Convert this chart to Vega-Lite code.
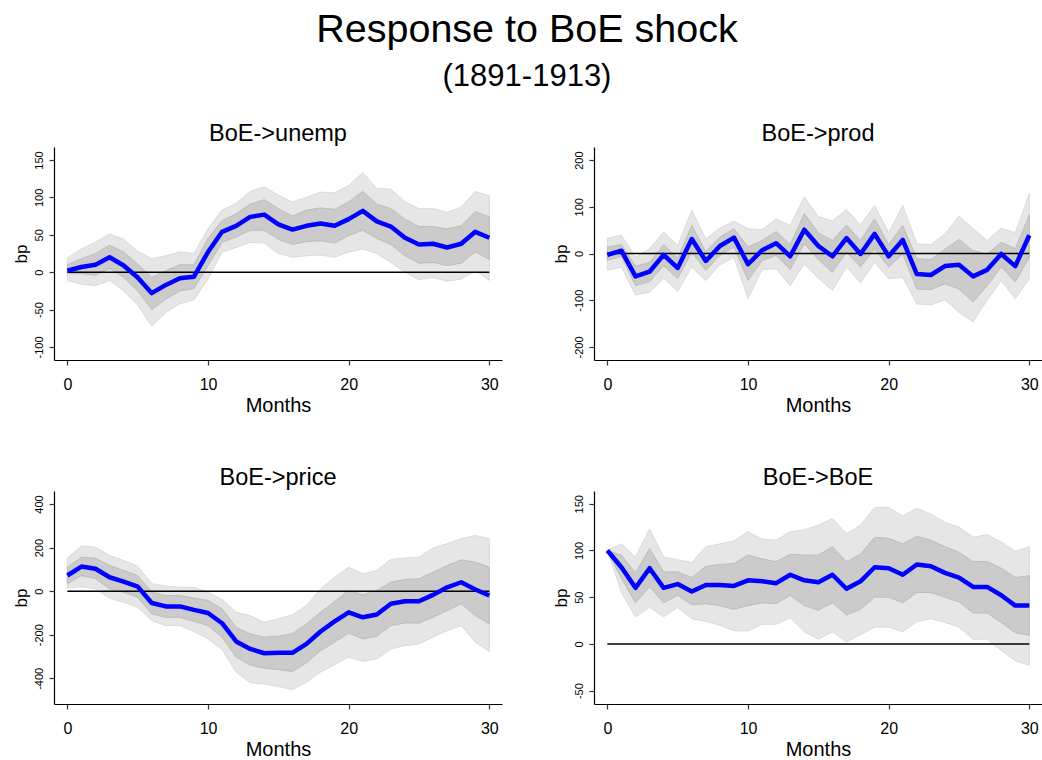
{
  "$schema": "https://vega.github.io/schema/vega-lite/v6.json",
  "padding": {"left": 12, "top": 10, "right": 0, "bottom": 0},
  "background": "white",
  "title": {"text": "Response to BoE shock", "subtitle": "(1891-1913)", "fontSize": 39.5, "subtitleFontSize": 31, "anchor": "middle", "frame": "bounds", "font": "Liberation Sans", "subtitleFont": "Liberation Sans", "fontWeight": "normal", "color": "black", "subtitleColor": "black", "subtitlePadding": 11, "offset": 29},
  "datasets": {
    "unemp": [
      {"t":0,"m":2,"l1":-2,"u1":10,"l2":-11,"u2":19},{"t":1,"m":7,"l1":-2,"u1":18,"l2":-16,"u2":31},{"t":2,"m":10,"l1":-4,"u1":25,"l2":-18,"u2":40},{"t":3,"m":20,"l1":5,"u1":36,"l2":-11,"u2":51},{"t":4,"m":9,"l1":-7,"u1":27,"l2":-25,"u2":44},{"t":5,"m":-7,"l1":-25,"u1":11,"l2":-44,"u2":28},{"t":6,"m":-28,"l1":-50,"u1":-7,"l2":-72,"u2":18},{"t":7,"m":-17,"l1":-36,"u1":2,"l2":-54,"u2":22},{"t":8,"m":-8,"l1":-25,"u1":10,"l2":-42,"u2":27},{"t":9,"m":-6,"l1":-22,"u1":10,"l2":-37,"u2":25},{"t":10,"m":27,"l1":9,"u1":45,"l2":-9,"u2":58},{"t":11,"m":54,"l1":40,"u1":69,"l2":27,"u2":83},{"t":12,"m":62,"l1":47,"u1":78,"l2":33,"u2":92},{"t":13,"m":74,"l1":56,"u1":91,"l2":40,"u2":108},{"t":14,"m":77,"l1":56,"u1":97,"l2":39,"u2":114},{"t":15,"m":64,"l1":44,"u1":85,"l2":25,"u2":103},{"t":16,"m":57,"l1":37,"u1":75,"l2":20,"u2":94},{"t":17,"m":62,"l1":41,"u1":83,"l2":22,"u2":100},{"t":18,"m":65,"l1":42,"u1":86,"l2":23,"u2":107},{"t":19,"m":62,"l1":39,"u1":84,"l2":20,"u2":106},{"t":20,"m":71,"l1":49,"u1":94,"l2":27,"u2":116},{"t":21,"m":82,"l1":56,"u1":108,"l2":31,"u2":133},{"t":22,"m":68,"l1":45,"u1":91,"l2":25,"u2":112},{"t":23,"m":61,"l1":37,"u1":85,"l2":13,"u2":111},{"t":24,"m":46,"l1":22,"u1":71,"l2":0,"u2":94},{"t":25,"m":37,"l1":12,"u1":61,"l2":-10,"u2":85},{"t":26,"m":38,"l1":13,"u1":61,"l2":-7,"u2":85},{"t":27,"m":33,"l1":9,"u1":58,"l2":-12,"u2":80},{"t":28,"m":38,"l1":12,"u1":62,"l2":-9,"u2":87},{"t":29,"m":54,"l1":27,"u1":81,"l2":2,"u2":108},{"t":30,"m":46,"l1":17,"u1":74,"l2":-11,"u2":102}
    ],
    "prod": [
      {"t":0,"m":-3,"l1":-15,"u1":14,"l2":-36,"u2":33},{"t":1,"m":6,"l1":-6,"u1":19,"l2":-29,"u2":39},{"t":2,"m":-49,"l1":-69,"u1":-27,"l2":-89,"u2":-8},{"t":3,"m":-39,"l1":-60,"u1":-19,"l2":-83,"u2":10},{"t":4,"m":-3,"l1":-26,"u1":19,"l2":-53,"u2":46},{"t":5,"m":-31,"l1":-54,"u1":-10,"l2":-81,"u2":17},{"t":6,"m":31,"l1":3,"u1":60,"l2":-29,"u2":92},{"t":7,"m":-16,"l1":-36,"u1":4,"l2":-58,"u2":31},{"t":8,"m":16,"l1":-4,"u1":35,"l2":-24,"u2":54},{"t":9,"m":34,"l1":14,"u1":53,"l2":-8,"u2":69},{"t":10,"m":-23,"l1":-58,"u1":14,"l2":-96,"u2":53},{"t":11,"m":7,"l1":-15,"u1":28,"l2":-34,"u2":51},{"t":12,"m":22,"l1":-4,"u1":47,"l2":-33,"u2":74},{"t":13,"m":-6,"l1":-34,"u1":19,"l2":-69,"u2":60},{"t":14,"m":51,"l1":21,"u1":85,"l2":-22,"u2":121},{"t":15,"m":16,"l1":-13,"u1":44,"l2":-53,"u2":79},{"t":16,"m":-6,"l1":-40,"u1":28,"l2":-79,"u2":70},{"t":17,"m":33,"l1":3,"u1":61,"l2":-29,"u2":94},{"t":18,"m":-1,"l1":-29,"u1":28,"l2":-63,"u2":61},{"t":19,"m":42,"l1":10,"u1":74,"l2":-19,"u2":103},{"t":20,"m":-6,"l1":-29,"u1":19,"l2":-54,"u2":44},{"t":21,"m":29,"l1":-1,"u1":60,"l2":-51,"u2":103},{"t":22,"m":-44,"l1":-76,"u1":-11,"l2":-108,"u2":21},{"t":23,"m":-46,"l1":-77,"u1":-13,"l2":-110,"u2":19},{"t":24,"m":-27,"l1":-65,"u1":9,"l2":-99,"u2":42},{"t":25,"m":-24,"l1":-76,"u1":30,"l2":-126,"u2":80},{"t":26,"m":-49,"l1":-104,"u1":6,"l2":-146,"u2":53},{"t":27,"m":-35,"l1":-69,"u1":-1,"l2":-100,"u2":28},{"t":28,"m":-1,"l1":-29,"u1":24,"l2":-58,"u2":54},{"t":29,"m":-27,"l1":-61,"u1":10,"l2":-97,"u2":44},{"t":30,"m":39,"l1":-8,"u1":83,"l2":-54,"u2":128}
    ],
    "price": [
      {"t":0,"m":72,"l1":34,"u1":110,"l2":14,"u2":152},{"t":1,"m":113,"l1":72,"u1":156,"l2":21,"u2":207},{"t":2,"m":103,"l1":57,"u1":152,"l2":11,"u2":202},{"t":3,"m":64,"l1":11,"u1":118,"l2":-32,"u2":164},{"t":4,"m":44,"l1":-5,"u1":95,"l2":-51,"u2":141},{"t":5,"m":21,"l1":-28,"u1":72,"l2":-74,"u2":115},{"t":6,"m":-54,"l1":-104,"u1":-5,"l2":-135,"u2":34},{"t":7,"m":-70,"l1":-120,"u1":-20,"l2":-158,"u2":23},{"t":8,"m":-70,"l1":-120,"u1":-20,"l2":-158,"u2":18},{"t":9,"m":-86,"l1":-139,"u1":-32,"l2":-185,"u2":18},{"t":10,"m":-100,"l1":-158,"u1":-43,"l2":-219,"u2":-5},{"t":11,"m":-147,"l1":-211,"u1":-81,"l2":-268,"u2":-38},{"t":12,"m":-231,"l1":-303,"u1":-166,"l2":-372,"u2":-97},{"t":13,"m":-265,"l1":-339,"u1":-196,"l2":-421,"u2":-112},{"t":14,"m":-285,"l1":-354,"u1":-211,"l2":-426,"u2":-143},{"t":15,"m":-283,"l1":-360,"u1":-207,"l2":-438,"u2":-127},{"t":16,"m":-283,"l1":-369,"u1":-196,"l2":-452,"u2":-109},{"t":17,"m":-242,"l1":-329,"u1":-150,"l2":-418,"u2":-66},{"t":18,"m":-185,"l1":-273,"u1":-97,"l2":-372,"u2":11},{"t":19,"m":-139,"l1":-234,"u1":-48,"l2":-337,"u2":64},{"t":20,"m":-97,"l1":-192,"u1":3,"l2":-303,"u2":110},{"t":21,"m":-120,"l1":-219,"u1":-17,"l2":-322,"u2":80},{"t":22,"m":-107,"l1":-207,"u1":3,"l2":-311,"u2":95},{"t":23,"m":-58,"l1":-158,"u1":41,"l2":-265,"u2":146},{"t":24,"m":-46,"l1":-146,"u1":54,"l2":-250,"u2":152},{"t":25,"m":-46,"l1":-146,"u1":57,"l2":-242,"u2":156},{"t":26,"m":-17,"l1":-120,"u1":87,"l2":-211,"u2":198},{"t":27,"m":18,"l1":-89,"u1":118,"l2":-181,"u2":218},{"t":28,"m":41,"l1":-58,"u1":144,"l2":-158,"u2":241},{"t":29,"m":8,"l1":-112,"u1":133,"l2":-234,"u2":256},{"t":30,"m":-20,"l1":-150,"u1":110,"l2":-277,"u2":241}
    ],
    "boe": [
      {"t":0,"m":100,"l1":100,"u1":100,"l2":100,"u2":100},{"t":1,"m":82,"l1":70,"u1":95,"l2":55,"u2":107},{"t":2,"m":60,"l1":44,"u1":76,"l2":29,"u2":93},{"t":3,"m":81,"l1":61,"u1":102,"l2":39,"u2":123},{"t":4,"m":60,"l1":44,"u1":77,"l2":29,"u2":93},{"t":5,"m":64,"l1":52,"u1":77,"l2":39,"u2":90},{"t":6,"m":56,"l1":42,"u1":71,"l2":27,"u2":87},{"t":7,"m":63,"l1":43,"u1":83,"l2":24,"u2":104},{"t":8,"m":63,"l1":41,"u1":85,"l2":20,"u2":107},{"t":9,"m":62,"l1":37,"u1":86,"l2":14,"u2":110},{"t":10,"m":68,"l1":41,"u1":95,"l2":14,"u2":120},{"t":11,"m":67,"l1":44,"u1":91,"l2":21,"u2":112},{"t":12,"m":65,"l1":43,"u1":88,"l2":21,"u2":111},{"t":13,"m":74,"l1":52,"u1":96,"l2":28,"u2":120},{"t":14,"m":68,"l1":41,"u1":95,"l2":13,"u2":122},{"t":15,"m":66,"l1":36,"u1":95,"l2":5,"u2":127},{"t":16,"m":74,"l1":44,"u1":104,"l2":13,"u2":134},{"t":17,"m":59,"l1":31,"u1":88,"l2":2,"u2":118},{"t":18,"m":67,"l1":37,"u1":96,"l2":10,"u2":127},{"t":19,"m":82,"l1":50,"u1":114,"l2":18,"u2":146},{"t":20,"m":81,"l1":50,"u1":113,"l2":18,"u2":146},{"t":21,"m":74,"l1":44,"u1":107,"l2":13,"u2":137},{"t":22,"m":85,"l1":55,"u1":115,"l2":24,"u2":145},{"t":23,"m":83,"l1":55,"u1":111,"l2":27,"u2":139},{"t":24,"m":76,"l1":50,"u1":104,"l2":23,"u2":130},{"t":25,"m":71,"l1":45,"u1":98,"l2":18,"u2":125},{"t":26,"m":61,"l1":33,"u1":88,"l2":5,"u2":114},{"t":27,"m":61,"l1":33,"u1":88,"l2":5,"u2":117},{"t":28,"m":52,"l1":23,"u1":81,"l2":-7,"u2":109},{"t":29,"m":41,"l1":12,"u1":71,"l2":-18,"u2":99},{"t":30,"m":41,"l1":9,"u1":73,"l2":-23,"u2":104}
    ]
  },
  "columns": 2,
  "spacing": {"row": 50, "column": 50},
  "concat": [
    {
      "width": 448, "height": 213,
      "title": {"text": "BoE->unemp"},
      "data": {"name": "unemp"},
      "encoding": {"x": {"field": "t", "type": "quantitative", "title": "Months", "scale": {"domain": [-0.95, 30.9], "nice": false, "zero": false}, "axis": {"values": [0, 10, 20, 30]}}},
      "layer": [
        {"mark": {"type": "area", "color": "#e6e6e6", "stroke": "#dadada", "strokeWidth": 1}, "encoding": {"y": {"field": "l2", "type": "quantitative", "title": "bp", "scale": {"domain": [-117.4, 167.4], "nice": false, "zero": false}, "axis": {"values": [-100, -50, 0, 50, 100, 150]}}, "y2": {"field": "u2"}}},
        {"mark": {"type": "area", "color": "#cbcbcb", "stroke": "#bdbdbd", "strokeWidth": 1}, "encoding": {"y": {"field": "l1", "type": "quantitative", "title": "bp"}, "y2": {"field": "u1"}}},
        {"mark": {"type": "line", "color": "black", "strokeWidth": 1.5}, "encoding": {"y": {"datum": 0, "title": "bp"}}},
        {"mark": {"type": "line", "color": "#0000ff", "strokeWidth": 4.5, "strokeJoin": "round"}, "encoding": {"y": {"field": "m", "type": "quantitative", "title": "bp"}}}
      ]
    },
    {
      "width": 448, "height": 213,
      "title": {"text": "BoE->prod"},
      "data": {"name": "prod"},
      "encoding": {"x": {"field": "t", "type": "quantitative", "title": "Months", "scale": {"domain": [-0.95, 30.9], "nice": false, "zero": false}, "axis": {"values": [0, 10, 20, 30]}}},
      "layer": [
        {"mark": {"type": "area", "color": "#e6e6e6", "stroke": "#dadada", "strokeWidth": 1}, "encoding": {"y": {"field": "l2", "type": "quantitative", "title": "bp", "scale": {"domain": [-228, 228], "nice": false, "zero": false}, "axis": {"values": [-200, -100, 0, 100, 200]}}, "y2": {"field": "u2"}}},
        {"mark": {"type": "area", "color": "#cbcbcb", "stroke": "#bdbdbd", "strokeWidth": 1}, "encoding": {"y": {"field": "l1", "type": "quantitative", "title": "bp"}, "y2": {"field": "u1"}}},
        {"mark": {"type": "line", "color": "black", "strokeWidth": 1.5}, "encoding": {"y": {"datum": 0, "title": "bp"}}},
        {"mark": {"type": "line", "color": "#0000ff", "strokeWidth": 4.5, "strokeJoin": "round"}, "encoding": {"y": {"field": "m", "type": "quantitative", "title": "bp"}}}
      ]
    },
    {
      "width": 448, "height": 213,
      "title": {"text": "BoE->price"},
      "data": {"name": "price"},
      "encoding": {"x": {"field": "t", "type": "quantitative", "title": "Months", "scale": {"domain": [-0.95, 30.9], "nice": false, "zero": false}, "axis": {"values": [0, 10, 20, 30]}}},
      "layer": [
        {"mark": {"type": "area", "color": "#e6e6e6", "stroke": "#dadada", "strokeWidth": 1}, "encoding": {"y": {"field": "l2", "type": "quantitative", "title": "bp", "scale": {"domain": [-518, 460], "nice": false, "zero": false}, "axis": {"values": [-400, -200, 0, 200, 400]}}, "y2": {"field": "u2"}}},
        {"mark": {"type": "area", "color": "#cbcbcb", "stroke": "#bdbdbd", "strokeWidth": 1}, "encoding": {"y": {"field": "l1", "type": "quantitative", "title": "bp"}, "y2": {"field": "u1"}}},
        {"mark": {"type": "line", "color": "black", "strokeWidth": 1.5}, "encoding": {"y": {"datum": 0, "title": "bp"}}},
        {"mark": {"type": "line", "color": "#0000ff", "strokeWidth": 4.5, "strokeJoin": "round"}, "encoding": {"y": {"field": "m", "type": "quantitative", "title": "bp"}}}
      ]
    },
    {
      "width": 448, "height": 213,
      "title": {"text": "BoE->BoE"},
      "data": {"name": "boe"},
      "encoding": {"x": {"field": "t", "type": "quantitative", "title": "Months", "scale": {"domain": [-0.95, 30.9], "nice": false, "zero": false}, "axis": {"values": [0, 10, 20, 30]}}},
      "layer": [
        {"mark": {"type": "area", "color": "#e6e6e6", "stroke": "#dadada", "strokeWidth": 1}, "encoding": {"y": {"field": "l2", "type": "quantitative", "title": "bp", "scale": {"domain": [-64.3, 163.6], "nice": false, "zero": false}, "axis": {"values": [-50, 0, 50, 100, 150]}}, "y2": {"field": "u2"}}},
        {"mark": {"type": "area", "color": "#cbcbcb", "stroke": "#bdbdbd", "strokeWidth": 1}, "encoding": {"y": {"field": "l1", "type": "quantitative", "title": "bp"}, "y2": {"field": "u1"}}},
        {"mark": {"type": "line", "color": "black", "strokeWidth": 1.5}, "encoding": {"y": {"datum": 0, "title": "bp"}}},
        {"mark": {"type": "line", "color": "#0000ff", "strokeWidth": 4.5, "strokeJoin": "round"}, "encoding": {"y": {"field": "m", "type": "quantitative", "title": "bp"}}}
      ]
    }
  ],
  "config": {
    "font": "Liberation Sans",
    "view": {"stroke": null},
    "title": {"fontSize": 23.5, "fontWeight": "normal", "color": "black", "font": "Liberation Sans", "anchor": "middle", "frame": "group", "offset": 2},
    "axis": {"grid": false, "domainColor": "black", "domainWidth": 1.2, "tickColor": "#333333", "tickSize": 5, "tickWidth": 1.2, "labelColor": "black", "titleColor": "black", "titleFontWeight": "normal", "labelFont": "Liberation Sans", "titleFont": "Liberation Sans", "labelFlush": false, "labelOverlap": false},
    "axisX": {"labelFontSize": 16, "titleFontSize": 20, "labelPadding": 11, "titlePadding": 3},
    "axisY": {"labelFontSize": 11, "labelAngle": -90, "labelAlign": "center", "labelBaseline": "bottom", "labelPadding": 5, "titleFontSize": 17, "titlePadding": 3, "labelExpr": "replace(datum.label, '\u2212', '-')"}
  }
}
